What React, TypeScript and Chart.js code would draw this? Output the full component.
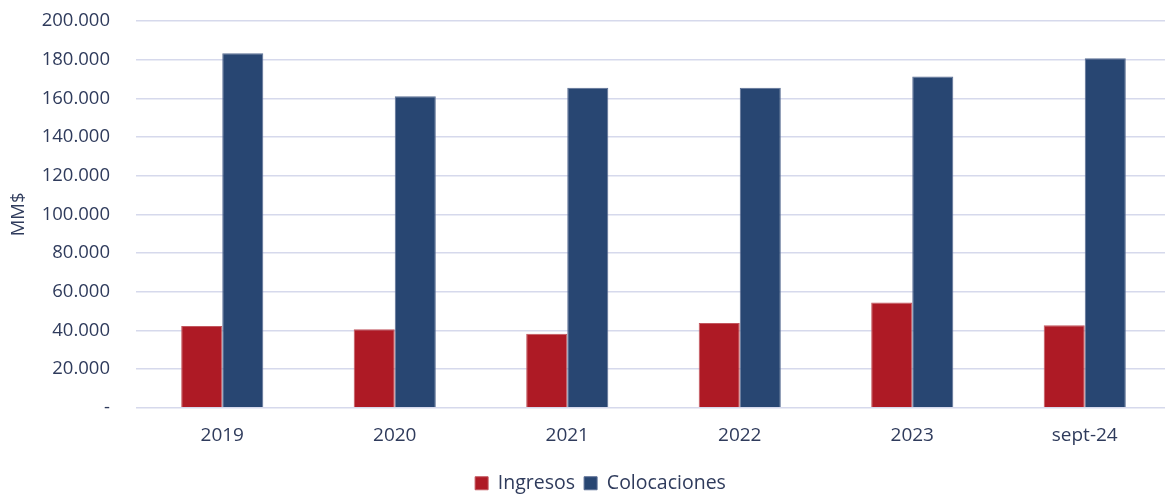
import React, { useEffect, useRef } from "react";
import { Chart, registerables } from "chart.js";

Chart.register(...registerables);

const categories = ["2019", "2020", "2021", "2022", "2023", "sept-24"];
const ingresos = [42300, 40600, 38300, 43800, 54400, 42600];
const colocaciones = [183300, 161100, 165500, 165500, 171300, 180700];
const yTicks = { min: 0, max: 200000, step: 20000 };

const TEXT = "#2f3b5c";
const FONT = "'Open Sans', 'Noto Sans', sans-serif";

function fmt(v: number): string {
  if (v === 0) return "-";
  return String(Math.round(v)).replace(/\B(?=(\d{3})+(?!\d))/g, ".");
}

const legendShift = {
  id: "legendShift",
  afterLayout(chart: any) {
    if (chart.legend) {
      chart.legend.left += 15;
      chart.legend.right += 15;
    }
  },
};

export default function App() {
  const ref = useRef<HTMLCanvasElement | null>(null);
  useEffect(() => {
    document.body.style.margin = "0";
    if (!ref.current) return;
    const chart = new Chart(ref.current, {
      type: "bar",
      data: {
        labels: categories,
        datasets: [
          {
            label: "Ingresos",
            data: ingresos,
            backgroundColor: "#ae1a25",
            borderColor: "#c2565e",
            borderWidth: 1,
          },
          {
            label: "Colocaciones",
            data: colocaciones,
            backgroundColor: "#284672",
            borderColor: "#5a6e94",
            borderWidth: 1,
          },
        ],
      },
      plugins: [legendShift],
      options: {
        animation: false,
        responsive: false,
        maintainAspectRatio: false,
        layout: { padding: { top: 0, right: 29, left: 0, bottom: -7 } },
        datasets: { bar: { categoryPercentage: 0.476, barPercentage: 1 } },
        plugins: {
          tooltip: { enabled: false },
          legend: {
            position: "bottom",
            labels: {
              boxWidth: 13,
              boxHeight: 13,
              padding: 9,
              color: TEXT,
              font: { family: FONT, size: 19.5 },
            },
          },
        },
        scales: {
          x: {
            grid: { display: false, drawTicks: false },
            border: { display: false },
            afterFit: (s: any) => {
              s.height += 2;
            },
            ticks: { color: TEXT, font: { family: FONT, size: 19 }, padding: 16 },
          },
          y: {
            min: yTicks.min,
            max: yTicks.max,
            afterFit: (s: any) => {
              s.width = 136;
              s.paddingTop = 21;
              s.paddingBottom = 0;
            },
            grid: { color: "#d6d9ec", lineWidth: 1.6, drawTicks: false },
            border: { display: false },
            title: {
              display: true,
              text: "MM$",
              color: TEXT,
              font: { family: FONT, size: 18.5 },
              padding: { top: 8, bottom: 0 },
            },
            ticks: {
              stepSize: yTicks.step,
              color: TEXT,
              font: { family: FONT, size: 18.5 },
              padding: 26,
              callback: (v: any) => fmt(Number(v)),
            },
          },
        },
      },
    });
    return () => chart.destroy();
  }, []);
  return (
    <div style={{ width: 1165, height: 496, overflow: "hidden", position: "relative" }}>
      <canvas ref={ref} width={1200} height={496} style={{ display: "block", width: 1200, height: 496 }} />
    </div>
  );
}
